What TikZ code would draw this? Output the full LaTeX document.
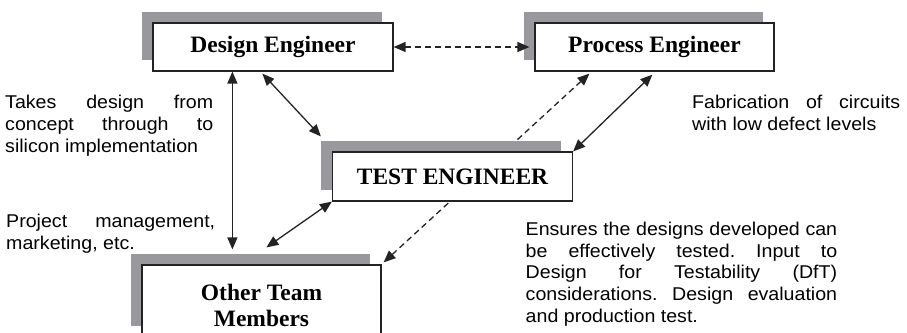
\documentclass[tikz,border=0pt]{standalone}
\usepackage{fontspec}
\setmainfont{Liberation Serif}
\newfontfamily\labfont[FakeStretch=1.06]{Liberation Sans}
\usetikzlibrary{arrows.meta,shadows,backgrounds}
\definecolor{shadowgray}{RGB}{152,152,157}
\definecolor{linegray}{RGB}{35,35,35}
\newcommand{\jline}[2]{\makebox[#1][s]{#2}}
\frenchspacing
\begin{document}
\begin{tikzpicture}[x=1pt,y=-1pt,
  box/.style={draw=linegray, line width=1.2pt, fill=white, inner sep=0pt,
    general shadow={fill=shadowgray, shadow xshift=-11.5pt, shadow yshift=11.5pt},
    font=\fontsize{23.5}{27}\selectfont\bfseries, align=center},
  boxlabel/.style={font=\fontsize{23.5}{26}\selectfont\bfseries, align=center, inner sep=0pt},
  conn/.style={draw=linegray, line width=1.3pt, {Triangle[length=12pt,width=10pt]}-{Triangle[length=12pt,width=10pt]}},
  dconn/.style={conn, dash pattern=on 6pt off 4pt},
  note/.style={font=\labfont\fontsize{18.5}{22}\selectfont, inner sep=0pt, anchor=north west, align=left}]
\useasboundingbox (0,0) rectangle (907,332);

\node[box, minimum width=240pt, minimum height=48pt] (d) at (273,47) {Design Engineer};
\node[box, minimum width=239pt, minimum height=48pt] (p) at (654.5,47) {Process Engineer};
\node[box, minimum width=240pt, minimum height=49pt] (t) at (452.5,176.5) {TEST ENGINEER};
\node[box, minimum width=239pt, minimum height=72pt] (o) at (261.5,301) {};
\node[boxlabel] (ol) at (261.5,305) {Other Team\\Members};

\begin{scope}[on background layer]
\draw[dconn] ([xshift=2pt,yshift=2pt]o.north east) -- ([xshift=55pt,yshift=-2pt]p.south west);
\end{scope}
\draw[dconn] (d.east) -- ([xshift=-5pt]p.west);
\draw[conn] ([xshift=80pt]d.south west) -- ([xshift=91pt,yshift=15pt]o.north west);
\draw[conn] ([xshift=110pt,yshift=-2pt]d.south west) -- ([xshift=-11pt,yshift=15pt]t.north west);
\draw[conn] ([xshift=118pt,yshift=-3pt]p.south west) -- (t.north east);
\draw[conn] (t.south west) -- ([xshift=125pt,yshift=17pt]o.north west);

\node[note] (n1) at (5,94.7) {\jline{208pt}{Takes design from}\\\jline{208pt}{concept through to}\\silicon implementation};
\node[note] (n2) at (6,214) {\jline{209pt}{Project management,}\\marketing, etc.};
\node[note] (n3) at (692,94.7) {\jline{208pt}{Fabrication of circuits}\\with low defect levels};
\node[note, font=\labfont\fontsize{18.5}{21.7}\selectfont] (n4) at (525.5,221.7) {\jline{311.5pt}{Ensures the designs developed can}\\\jline{311.5pt}{be effectively tested. Input to}\\\jline{311.5pt}{Design for Testability (DfT)}\\\jline{311.5pt}{considerations. Design evaluation}\\and production test.};
\end{tikzpicture}
\end{document}
